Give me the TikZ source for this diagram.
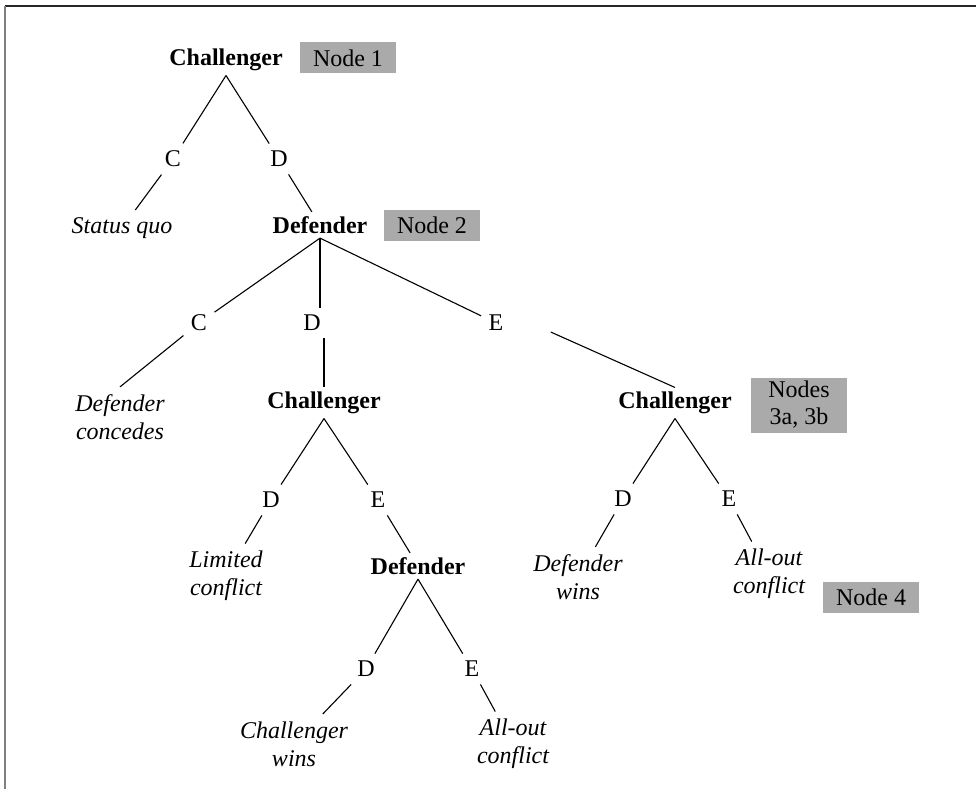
\documentclass[tikz,border=0pt]{standalone}
\usepackage{fontspec}
\setmainfont{Liberation Serif}
\usetikzlibrary{positioning}
\definecolor{boxgray}{RGB}{170,170,170}

\begin{document}
\begin{tikzpicture}[x=1pt, y=-1pt, line width=1.1pt,
    font=\fontsize{24}{28}\selectfont,
    player/.style={font=\fontsize{24}{28}\selectfont\bfseries, inner sep=4pt},
    move/.style={inner sep=7pt},
    outcome/.style={font=\fontsize{24}{28}\selectfont\itshape, align=center, inner sep=7pt},
    tag/.style={fill=boxgray, minimum width=96pt, minimum height=31pt, inner sep=2pt, align=center, font=\fontsize{24}{27}\selectfont}]
          \useasboundingbox (0,0) rectangle (976,789);
          \draw[line width=2pt, black!85] (5,6) -- (976,6);
          \draw[line width=2pt, black!50] (5,6) -- (5,789);

          % node 1
          \node[player] (ch1) at (226,60) {Challenger};
          \node[tag] (t1) at (348,58) {Node 1};
          \node[move] (c1) at (173,159) {C};
          \node[move] (d1) at (279,159) {D};
          \node[outcome] (sq) at (122,228) {Status quo};
          \node[player] (df1) at (320,225) {Defender};
          \node[tag] (t2) at (432,225) {Node 2};

          \draw (ch1.south) -- (c1);
          \draw (ch1.south) -- (d1);
          \draw (c1) -- (sq);
          \draw (d1) -- (df1);

          % node 2
          \node[move] (c2) at (199,323) {C};
          \node[move] (d2) at (312,323) {D};
          \node[move] (e2) at (496,323) {E};
          \node[outcome] (dc) at (120,417) {Defender\\concedes};
          \node[player] (ch2) at (324,403) {Challenger};
          \node[player] (ch3) at (675,403) {Challenger};
          \node[tag, minimum height=55pt] (t3) at (799,405) {Nodes\\3a, 3b};

          \draw (df1.south) -- (c2);
          \draw (df1.south) -- (df1.south |- d2.north);
          \draw (df1.south) -- (e2);
          \draw (c2) -- (dc.north);
          \draw (d2.south -| ch2.north) -- (ch2.north);
          \draw[shorten <=60pt] (e2.north) -- (ch3.north);

          % left challenger
          \node[move] (d3) at (271,500) {D};
          \node[move] (e3) at (378,500) {E};
          \node[outcome] (lc) at (226,576) {Limited\\conflict};
          \node[player] (df2) at (418,566) {Defender};

          \draw (ch2.south) -- (d3);
          \draw (ch2.south) -- (e3);
          \draw (d3) -- (lc);
          \draw (e3) -- (df2);

          \node[move] (d4) at (366,669) {D};
          \node[move] (e4) at (472,669) {E};
          \node[outcome] (cw) at (294,744) {Challenger\\wins};
          \node[outcome] (ao1) at (513,744) {All-out\\conflict};

          \draw (df2.south) -- (d4);
          \draw (df2.south) -- (e4);
          \draw (d4) -- (cw);
          \draw (e4) -- (ao1);

          % right challenger
          \node[move] (d5) at (623,499) {D};
          \node[move] (e5) at (729,499) {E};
          \node[outcome] (dw) at (578,577) {Defender\\wins};
          \node[outcome] (ao2) at (769,574) {All-out\\conflict};
          \node[tag] (t4) at (871,597) {Node 4};

          \draw (ch3.south) -- (d5);
          \draw (ch3.south) -- (e5);
          \draw (d5) -- (dw);
          \draw (e5) -- (ao2);
        \end{tikzpicture}
\end{document}
